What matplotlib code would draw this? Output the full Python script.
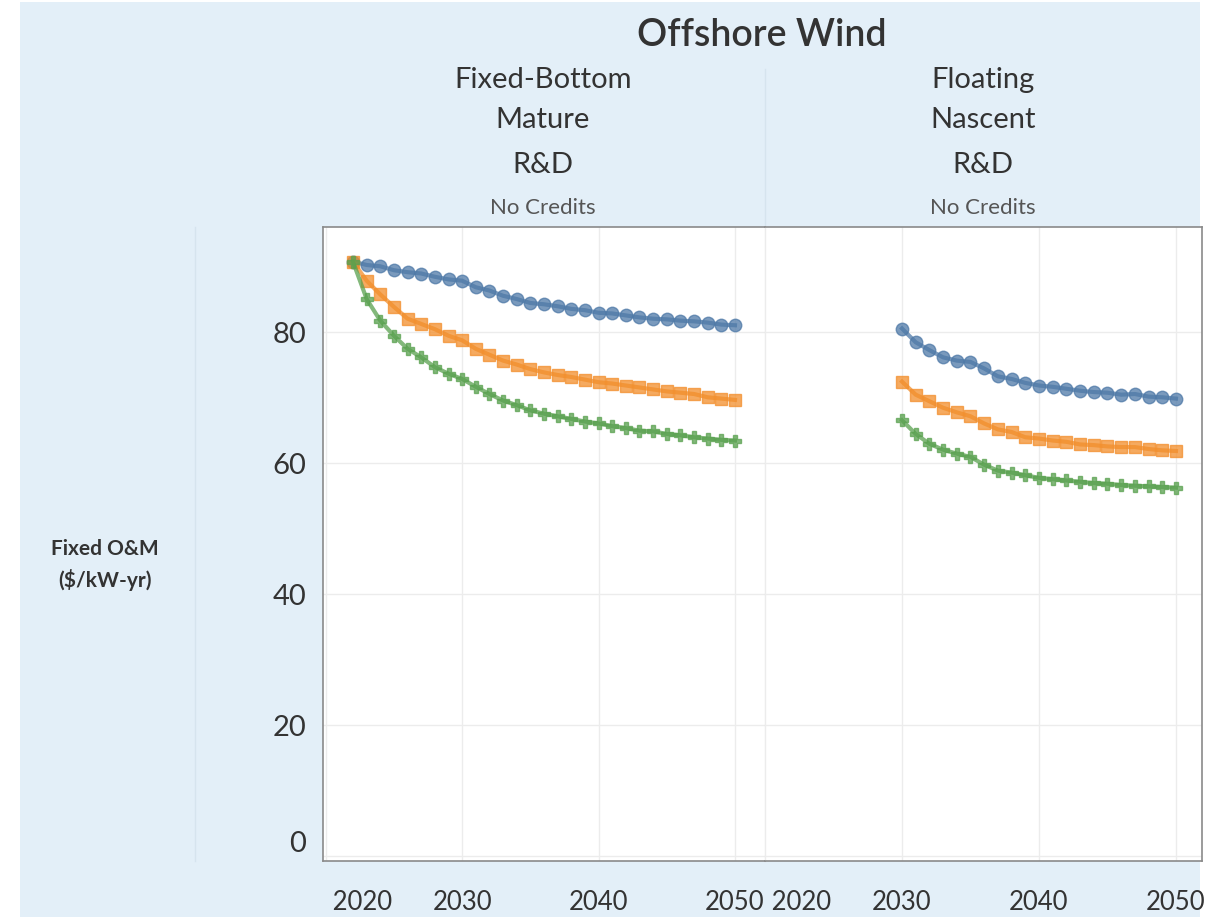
import matplotlib.pyplot as plt
from matplotlib.patches import Rectangle
from matplotlib.lines import Line2D

plt.rcParams['font.family'] = ['Lato', 'DejaVu Sans']

# Fixed O&M ($/kW-yr), offshore wind, R&D scenario, no credits
years_fixed = list(range(2022, 2051))
fixed_blue = [90.7, 90.2, 90.0, 89.4, 89.1, 88.9, 88.4, 88.0, 87.8, 86.8, 86.3, 85.5, 85.0, 84.4, 84.2,
              83.9, 83.5, 83.3, 82.9, 82.8, 82.5, 82.2, 82.0, 81.9, 81.7, 81.6, 81.4, 81.1, 81.0]
fixed_orange = [90.7, 87.8, 85.7, 83.8, 82.0, 81.2, 80.4, 79.4, 78.7, 77.4, 76.5, 75.6, 75.0, 74.3, 73.8,
                73.4, 73.1, 72.7, 72.3, 72.1, 71.8, 71.5, 71.2, 70.9, 70.7, 70.5, 70.0, 69.8, 69.6]
fixed_green = [90.7, 85.0, 81.7, 79.4, 77.4, 76.1, 74.6, 73.6, 72.8, 71.6, 70.5, 69.5, 68.8, 68.0, 67.5,
               67.1, 66.7, 66.3, 66.0, 65.6, 65.3, 64.9, 64.8, 64.4, 64.2, 63.9, 63.7, 63.5, 63.4]

years_float = list(range(2030, 2051))
float_blue = [80.5, 78.4, 77.2, 76.1, 75.6, 75.4, 74.4, 73.2, 72.8, 72.2, 71.8, 71.6, 71.3, 71.0,
              70.8, 70.7, 70.4, 70.5, 70.1, 70.0, 69.8]
float_orange = [72.4, 70.4, 69.4, 68.4, 67.7, 67.1, 66.0, 65.1, 64.7, 63.9, 63.7, 63.4, 63.2, 62.8,
                62.7, 62.5, 62.4, 62.4, 62.1, 61.9, 61.8]
float_green = [66.5, 64.4, 62.9, 62.0, 61.4, 60.9, 59.7, 58.8, 58.5, 58.1, 57.7, 57.5, 57.3, 57.1,
               56.9, 56.8, 56.6, 56.5, 56.4, 56.3, 56.2]

panel_titles = [["Fixed-Bottom", "Mature", "R&D", "No Credits"],
                ["Floating", "Nascent", "R&D", "No Credits"]]
yticks = [0, 20, 40, 60, 80]
xticks = [2020, 2030, 2040, 2050]
xtick_labels = [" 2020", "2030", "2040", "2050"]

blue, orange, green = "#4e79a7", "#f28e2b", "#59a14f"
bg = "#e3eff8"
grid_c = "#ececec"
text_c = "#333333"

W, H = 1206, 920
fig = plt.figure(figsize=(W / 100, H / 100), dpi=100)

# background panes
fig.patches.append(Rectangle((20 / W, 1 - 918 / H), 1180 / W, 915 / H, transform=fig.transFigure,
                             facecolor=bg, edgecolor="none", zorder=-10))
fig.lines.append(Line2D([195 / W, 195 / W], [1 - 862 / H, 1 - 228 / H], transform=fig.transFigure,
                        color="#d6e4ee", lw=1, zorder=-5))
fig.lines.append(Line2D([765 / W, 765 / W], [1 - 228 / H, 1 - 70 / H], transform=fig.transFigure,
                        color="#d6e4ee", lw=1, zorder=-5))

left, right, top, bot = 323 / W, 1202 / W, 1 - 228 / H, 1 - 862 / H
split = 765 / W
ax1 = fig.add_axes([left, bot, split - left, top - bot])
ax2 = fig.add_axes([split, bot, right - split, top - bot], sharey=ax1)

panels = [
    (ax1, years_fixed, fixed_blue, fixed_orange, fixed_green, (2019.8, 2052.2)),
    (ax2, years_float, float_blue, float_orange, float_green, (2020.0, 2051.9)),
]

for ax, yrs, b, o, g, xl in panels:
    ax.set_facecolor("white")
    ax.set_xlim(*xl)
    ax.set_ylim(-0.8, 96)
    ax.set_yticks(yticks)
    ax.set_xticks(xticks, labels=xtick_labels)
    ax.grid(True, color=grid_c, lw=1)
    ax.set_axisbelow(True)
    ax.tick_params(length=0, labelcolor=text_c)
    ax.tick_params(axis="x", labelsize=18.5, pad=20)
    ax.tick_params(axis="y", labelsize=21, pad=12)
    ax.plot(yrs, b, color=blue, lw=3, marker="o", ms=9, alpha=0.75, zorder=3)
    ax.plot(yrs, o, color=orange, lw=3, marker="s", ms=8, alpha=0.75, zorder=3)
    ax.plot(yrs, g, color=green, lw=3, marker="P", ms=8, alpha=0.75, zorder=3)
    for s in ax.spines.values():
        s.set_color("#8a8a8a")
        s.set_linewidth(1.2)
    ax.get_xticklabels()[0].set_horizontalalignment("left")

ax1.spines["right"].set_color("#e6e6e6")
ax1.spines["right"].set_linewidth(1)
ax2.spines["left"].set_visible(False)
ax2.tick_params(axis="y", labelleft=False)
ax1.get_yticklabels()[0].set_verticalalignment("bottom")

# headers
fig.text(762 / W, 1 - 35 / H, "Offshore Wind", ha="center", va="center", fontsize=27,
         fontweight="semibold", color=text_c)
for cx, lines in zip([543, 983], panel_titles):
    for yy, t in zip([80, 120, 165], lines[:3]):
        fig.text(cx / W, 1 - yy / H, t, ha="center", va="center", fontsize=21, color=text_c)
    fig.text(cx / W, 1 - 208 / H, lines[3], ha="center", va="center", fontsize=16, color="#555555")

fig.text(105 / W, 1 - 565 / H, "Fixed O&M\n($/kW-yr)", ha="center", va="center", fontsize=15,
         fontweight="bold", color=text_c, linespacing=1.6)

fig.savefig("out.png", dpi=100, facecolor="white")
